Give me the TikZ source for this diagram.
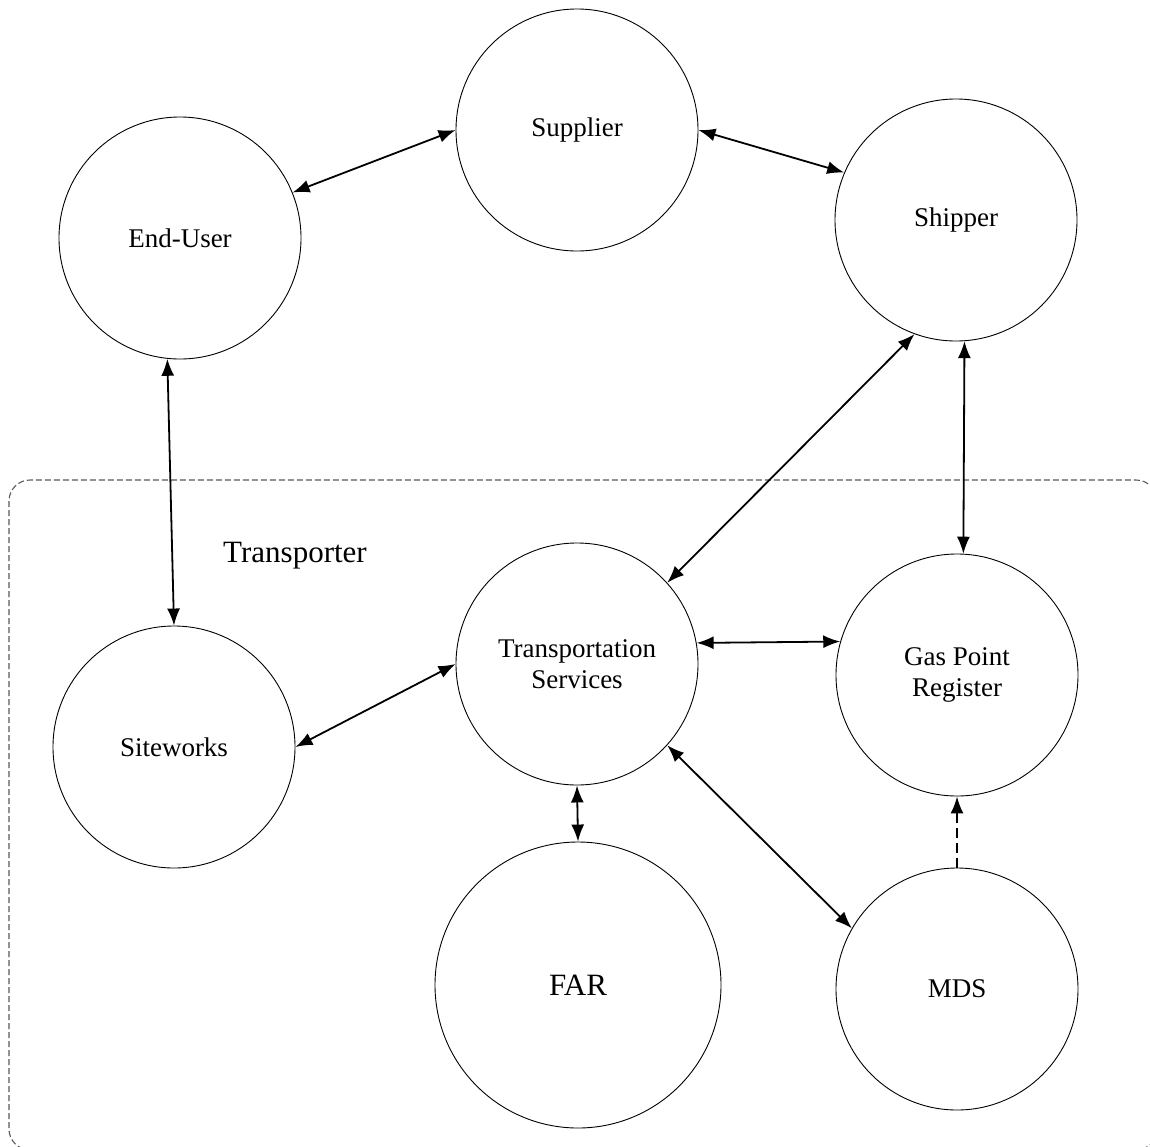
\documentclass[tikz,border=0pt]{standalone}
\usepackage{fontspec}
\setmainfont{Liberation Serif}
\usetikzlibrary{arrows.meta}
\begin{document}
\begin{tikzpicture}[x=1pt,y=-1pt,
  entity/.style={draw,circle,line width=0.9pt,inner sep=0pt,align=center,
    minimum size=242pt,font=\fontsize{27}{31}\selectfont},
  link/.style={line width=1.8pt,{Latex[length=17pt,width=13pt]}-{Latex[length=17pt,width=13pt]}},
  feed/.style={line width=1.8pt,dash pattern=on 10pt off 5pt,-{Latex[length=17pt,width=13pt]}},
  boundary/.style={draw=black!65,line width=1.1pt,dash pattern=on 6pt off 3pt,rounded corners=21pt}]
\useasboundingbox (0,0) rectangle (1150,1146);
\clip (0,0) rectangle (1150,1146);

% Transporter boundary
\draw[boundary] (9,480) rectangle (1157,1150);
\node[font=\fontsize{31}{36}\selectfont] (tlabel) at (295,556) {Transporter};

% Entities
\node[entity] (sup)  at (577,130) {Supplier};
\node[entity] (eu)   at (180,238) {End-User};
\node[entity] (ship) at (956,220) {Shipper};
\node[entity] (ts)   at (577,664) {Transportation\\Services};
\node[entity] (gpr)  at (957,675) {Gas Point\\Register};
\node[entity] (site) at (174,747) {Siteworks};
\node[entity,minimum size=286pt,font=\fontsize{31}{36}\selectfont] (far) at (578,985) {FAR};
\node[entity] (mds)  at (957,989) {MDS};

% Connectors
\draw[link] (eu.22.2) -- (sup.180);
\draw[link] (sup.0) -- (ship.157.6);
\draw[link] (eu.264.8) -- (site.90);
\draw[link] (ship.250.8) -- (ts.42.7);
\draw[link] (ship.274) -- (gpr.87);
\draw[link] (ts.10.4) -- (gpr.164.5);
\draw[link] (site.0) -- (ts.180);
\draw[link] (ts.270) -- (far.90);
\draw[link] (ts.318.3) -- (mds.150);
\draw[feed] (mds.90) -- (gpr.270);
\end{tikzpicture}
\end{document}
